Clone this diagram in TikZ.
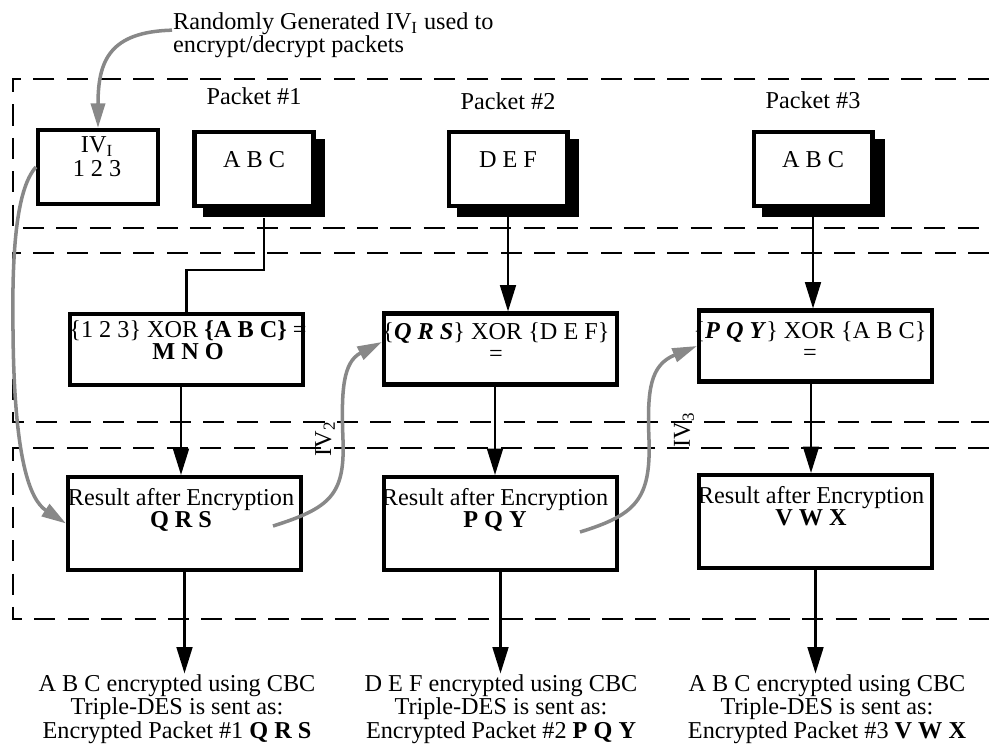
\documentclass[tikz,border=0pt]{standalone}
\usepackage{fontspec}
\setmainfont{Liberation Serif}
\usetikzlibrary{arrows.meta}
\definecolor{ivgray}{RGB}{136,136,136}

\begin{document}
\begin{tikzpicture}[x=0.02cm, y=-0.02cm, line width=1.3pt,
  every node/.style={font=\fontsize{13.8}{12.8}\selectfont, inner sep=0pt, align=center},
  pkt/.style={draw, fill=white, line width=2.3pt, minimum width=2.38cm, minimum height=1.48cm},
  shade/.style={fill=black, minimum width=2.46cm, minimum height=1.56cm},
  box/.style={draw, line width=2.3pt, minimum width=4.66cm},
  band/.style={line width=1.1pt, dash pattern=on 12pt off 7pt},
  blk/.style={-{Triangle[width=9pt,length=15pt]}},
  iv/.style={draw=ivgray, line width=2pt, -{Triangle[width=8pt,length=14pt]}}]
\useasboundingbox (0,0) rectangle (989,746);

\draw[band] (989,79) -- (13,79) -- (13,228) -- (989,228);
\draw[band] (989,253) -- (13,253) -- (13,422) -- (989,422);
\draw[band] (989,448) -- (13,448) -- (13,619) -- (989,619);

\node[anchor=north west, align=left] (note) at (172,12) {Randomly Generated IV\textsubscript{I} used to\\encrypt/decrypt packets};

\node[pkt, minimum width=2.4cm] (iv) at (98,167) {};
\node (ivt) at (97,157) {IV\textsubscript{I}\\[1pt]1 2 3};

\foreach \n/\x/\y/\t in {1/254/96/A B C, 2/508/101/D E F, 3/813/100/A B C}{
  \node (lab\n) at (\x,\y) {Packet \#\n};
  \node[shade] (sh\n) at (\x+10,178) {};
  \node[pkt] (pk\n) at (\x,169) {};
  \node (pkt\n) at (\x,160) {\t};
}

\node[box, minimum height=1.42cm] (x1) at (186.5,349.5) {};
\node[box, minimum height=1.42cm] (x2) at (500.5,349) {};
\node[box, minimum height=1.42cm] (x3) at (815.5,346) {};
\node (x1t) at (188,340) {\{1 2 3\} XOR \textbf{\{A B C\}} =\\\textbf{M N O}};
\node (x2t) at (496,342) {\{\textbf{\textit{Q R S}}\} XOR \{D E F\}\\=};
\node (x3t) at (810,341) {\{\textbf{\textit{P Q Y}}\} XOR \{A B C\}\\=};

\node[box, minimum height=1.86cm] (r1) at (184.5,523.5) {};
\node[box, minimum height=1.86cm] (r2) at (500.5,523.5) {};
\node[box, minimum height=1.86cm] (r3) at (815.5,521.5) {};
\node (r1t) at (181,510) {Result after Encryption\\\textbf{Q R S}};
\node (r2t) at (495,510) {Result after Encryption\\\textbf{P Q Y}};
\node (r3t) at (811,506) {Result after Encryption\\\textbf{V W X}};

\tikzset{every node/.append style={font=\fontsize{13.8}{13.3}\selectfont}}
\node (o1) at (177,709) {A B C encrypted using CBC\\Triple-DES is sent as:\\Encrypted Packet \#1 \textbf{Q R S}};
\node (o2) at (501,709) {D E F encrypted using CBC\\Triple-DES is sent as:\\Encrypted Packet \#2 \textbf{P Q Y}};
\node (o3) at (827,709) {A B C encrypted using CBC\\Triple-DES is sent as:\\Encrypted Packet \#3 \textbf{V W X}};

\draw (sh1.south) -- ++(0,52) -| (x1.north);
\draw[blk] (pk2.south) -- (pk2.south |- x2.north);
\draw[blk] (pk3.south) -- (pk3.south |- x3.north);
\foreach \n in {1,2,3}{
  \draw[blk] (r\n t |- x\n.south) -- (r\n t |- r\n.north);
  \draw[blk] (r\n.south) -- (r\n.south |- o\n.north);
}

\node[rotate=90] (iv2) at (325,439) {IV\textsubscript{2}};
\node[rotate=90] (iv3) at (684,430) {IV\textsubscript{3}};
\coordinate (c2) at (273,526);
\coordinate (c3) at (580,532);
\draw[iv] ([yshift=3pt]note.west) .. controls (110,32) and (98,60) .. (iv.north);
\draw[iv] (iv.west) .. controls (15,190) and (12,260) .. (13,330) .. controls (14,460) and (30,500) .. (r1.west);
\draw[iv] (c2) .. controls (330,508) and (345,495) .. (343,440) .. controls (341,390) and (343,362) .. ([yshift=4pt]x2.west);
\draw[iv] (c3) .. controls (635,515) and (651,500) .. (649,440) .. controls (647,390) and (650,365) .. (x3.west);
\end{tikzpicture}
\end{document}
